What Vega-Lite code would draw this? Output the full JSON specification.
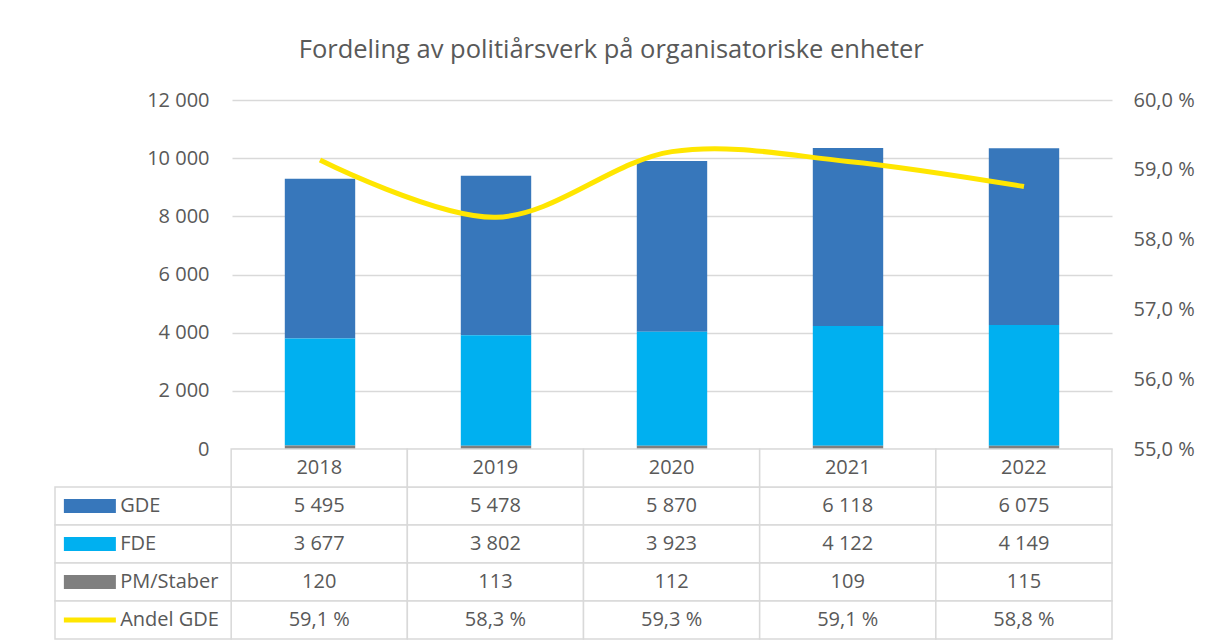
{
  "$schema": "https://vega.github.io/schema/vega-lite/v6.json",
  "padding": {"left": 54, "top": 37, "right": 5, "bottom": 2},
  "background": "white",
  "bounds": "flush",
  "title": {
    "text": "Fordeling av politiårsverk på organisatoriske enheter",
    "fontSize": 25.5,
    "fontWeight": "normal",
    "color": "#595959",
    "anchor": "middle",
    "dx": -13,
    "offset": 27
  },
  "config": {
    "font": "Open Sans",
    "view": {"stroke": null},
    "locale": {
      "number": {
        "decimal": ",",
        "thousands": "\u00a0",
        "grouping": [3],
        "currency": ["", ""],
        "percent": "\u00a0%"
      }
    }
  },
  "data": {
    "values": [
      {"year": "2018", "series": "GDE", "value": 5495},
      {"year": "2018", "series": "FDE", "value": 3677},
      {"year": "2018", "series": "PM/Staber", "value": 120},
      {"year": "2018", "series": "Andel GDE", "value": 0.5914},
      {"year": "2019", "series": "GDE", "value": 5478},
      {"year": "2019", "series": "FDE", "value": 3802},
      {"year": "2019", "series": "PM/Staber", "value": 113},
      {"year": "2019", "series": "Andel GDE", "value": 0.5832},
      {"year": "2020", "series": "GDE", "value": 5870},
      {"year": "2020", "series": "FDE", "value": 3923},
      {"year": "2020", "series": "PM/Staber", "value": 112},
      {"year": "2020", "series": "Andel GDE", "value": 0.5926},
      {"year": "2021", "series": "GDE", "value": 6118},
      {"year": "2021", "series": "FDE", "value": 4122},
      {"year": "2021", "series": "PM/Staber", "value": 109},
      {"year": "2021", "series": "Andel GDE", "value": 0.5912},
      {"year": "2022", "series": "GDE", "value": 6075},
      {"year": "2022", "series": "FDE", "value": 4149},
      {"year": "2022", "series": "PM/Staber", "value": 115},
      {"year": "2022", "series": "Andel GDE", "value": 0.5876}
    ]
  },
  "spacing": 0,
  "vconcat": [
    {
      "width": 880,
      "height": 349,
      "resolve": {"scale": {"y": "independent"}},
      "layer": [
        {
          "transform": [{"filter": "datum.series !== 'Andel GDE'"}],
          "mark": {"type": "bar"},
          "encoding": {
            "x": {
              "field": "year",
              "type": "nominal",
              "scale": {"type": "band", "paddingInner": 0.6, "paddingOuter": 0.3},
              "axis": null
            },
            "y": {
              "field": "value",
              "type": "quantitative",
              "stack": "zero",
              "scale": {"domain": [0, 12000], "nice": false},
              "axis": {
                "values": [0, 2000, 4000, 6000, 8000, 10000, 12000],
                "format": ",d",
                "title": null,
                "domain": false,
                "ticks": false,
                "grid": true,
                "gridColor": "#d9d9d9",
                "gridWidth": 1.5,
                "labelFontSize": 20,
                "labelColor": "#595959",
                "labelPadding": 23
              }
            },
            "color": {
              "field": "series",
              "type": "nominal",
              "scale": {"domain": ["GDE", "FDE", "PM/Staber"], "range": ["#3777BB", "#00B0F0", "#7F7F7F"]},
              "legend": null
            },
            "order": {"field": "value", "type": "quantitative", "sort": "ascending"}
          }
        },
        {
          "transform": [{"filter": "datum.series === 'Andel GDE'"}],
          "mark": {"type": "line", "interpolate": "catmull-rom", "strokeWidth": 5, "color": "#FFE600"},
          "encoding": {
            "x": {"field": "year", "type": "nominal", "axis": null},
            "y": {
              "field": "value",
              "type": "quantitative",
              "scale": {"domain": [0.55, 0.6], "nice": false, "zero": false},
              "axis": {
                "orient": "right",
                "values": [0.55, 0.56, 0.57, 0.58, 0.59, 0.6],
                "format": ".1%",
                "title": null,
                "domain": false,
                "ticks": false,
                "grid": false,
                "labelFontSize": 20,
                "labelColor": "#595959",
                "labelPadding": 21
              }
            }
          }
        }
      ]
    },
    {
      "width": 880,
      "height": 190,
      "layer": [
        {
          "mark": {"type": "rect", "fill": "white", "stroke": "#d9d9d9", "strokeWidth": 1.5},
          "encoding": {
            "x": {
              "field": "year",
              "type": "nominal",
              "scale": {"type": "band", "domain": ["hdr", "2018", "2019", "2020", "2021", "2022"], "range": [-177, 880], "paddingInner": 0, "paddingOuter": 0},
              "axis": null
            },
            "y": {
              "field": "series",
              "type": "nominal",
              "scale": {"type": "band", "domain": ["hdr", "GDE", "FDE", "PM/Staber", "Andel GDE"], "paddingInner": 0, "paddingOuter": 0},
              "axis": null
            }
          }
        },
        {
          "transform": [{"filter": "datum.series === 'GDE'"}],
          "mark": {"type": "rect", "fill": "white", "stroke": "#d9d9d9", "strokeWidth": 1.5},
          "encoding": {
            "x": {"field": "year", "type": "nominal"},
            "y": {"datum": "hdr", "type": "nominal"}
          }
        },
        {
          "transform": [{"filter": "datum.year === '2018'"}],
          "mark": {"type": "rect", "fill": "white", "stroke": "#d9d9d9", "strokeWidth": 1.5},
          "encoding": {
            "x": {"datum": "hdr", "type": "nominal"},
            "y": {"field": "series", "type": "nominal"}
          }
        },
        {
          "transform": [{"filter": "datum.series !== 'Andel GDE'"}],
          "mark": {"type": "text", "fontSize": 20, "color": "#595959", "align": "center", "baseline": "middle"},
          "encoding": {
            "x": {"field": "year", "type": "nominal"},
            "y": {"field": "series", "type": "nominal"},
            "text": {"field": "value", "type": "quantitative", "format": ",d"}
          }
        },
        {
          "transform": [{"filter": "datum.series === 'Andel GDE'"}],
          "mark": {"type": "text", "fontSize": 20, "color": "#595959", "align": "center", "baseline": "middle"},
          "encoding": {
            "x": {"field": "year", "type": "nominal"},
            "y": {"field": "series", "type": "nominal"},
            "text": {"field": "value", "type": "quantitative", "format": ".1%"}
          }
        },
        {
          "transform": [{"filter": "datum.series === 'GDE'"}],
          "mark": {"type": "text", "fontSize": 20, "color": "#595959", "align": "center", "baseline": "middle"},
          "encoding": {
            "x": {"field": "year", "type": "nominal"},
            "y": {"datum": "hdr", "type": "nominal"},
            "text": {"field": "year", "type": "nominal"}
          }
        },
        {
          "transform": [{"filter": "datum.year === '2018'"}],
          "mark": {"type": "text", "fontSize": 20, "color": "#595959", "align": "left", "baseline": "middle"},
          "encoding": {
            "x": {"datum": "hdr", "type": "nominal", "bandPosition": 0.37},
            "y": {"field": "series", "type": "nominal"},
            "text": {"field": "series", "type": "nominal"}
          }
        },
        {
          "transform": [{"filter": "datum.year === '2018' && datum.series !== 'Andel GDE'"}],
          "mark": {"type": "point", "filled": true, "opacity": 1, "shape": "M-1,-0.27H1V0.27H-1Z", "size": 2704},
          "encoding": {
            "x": {"datum": "hdr", "type": "nominal", "bandPosition": 0.198},
            "y": {"field": "series", "type": "nominal"},
            "color": {
              "field": "series",
              "type": "nominal",
              "scale": {"domain": ["GDE", "FDE", "PM/Staber"], "range": ["#3777BB", "#00B0F0", "#7F7F7F"]},
              "legend": null
            }
          }
        },
        {
          "transform": [{"filter": "datum.year === '2018' && datum.series === 'Andel GDE'"}],
          "mark": {"type": "point", "filled": true, "opacity": 1, "shape": "M-1,-0.1H1V0.1H-1Z", "size": 2704, "color": "#FFE600"},
          "encoding": {
            "x": {"datum": "hdr", "type": "nominal", "bandPosition": 0.198},
            "y": {"field": "series", "type": "nominal"}
          }
        }
      ]
    }
  ]
}
